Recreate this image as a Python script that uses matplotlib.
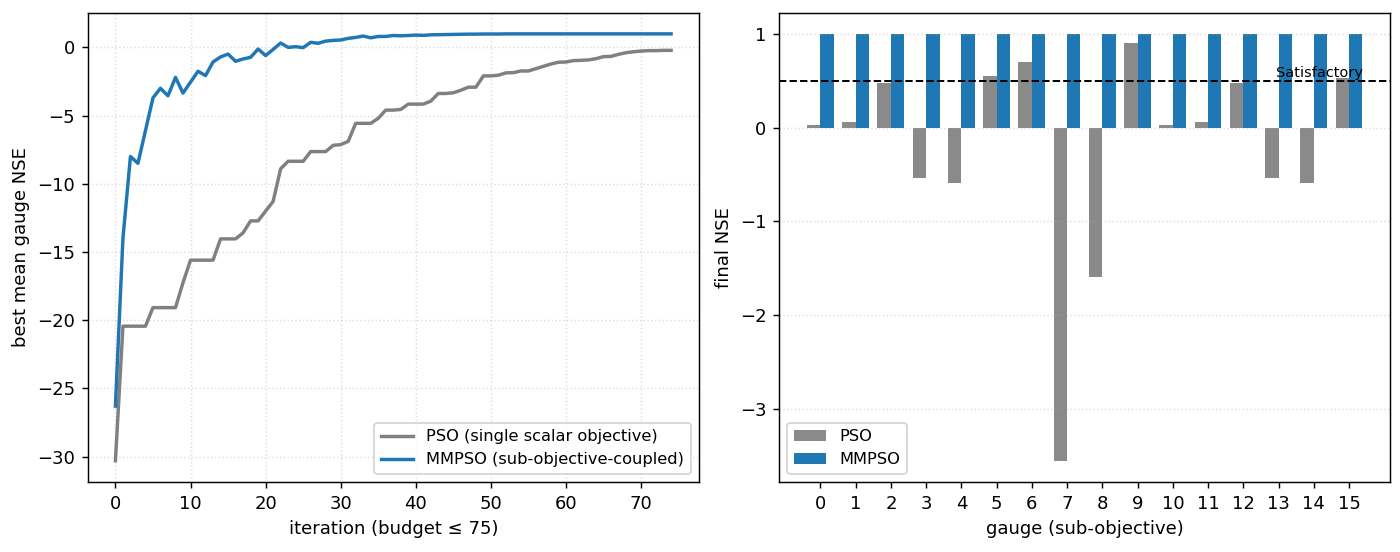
import numpy as np
import matplotlib
matplotlib.use("Agg")
import matplotlib.pyplot as plt

# convergence curves (best mean gauge NSE per iteration)
iters = np.arange(75)
pso_curve = [
    -30.3, -20.44, -20.44, -20.44, -20.44, -19.08, -19.08, -19.08, -19.08, -17.25,
    -15.6, -15.6, -15.6, -15.6, -14.04, -14.04, -14.04, -13.6, -12.72, -12.72,
    -12.0, -11.3, -8.9, -8.35, -8.35, -8.35, -7.64, -7.64, -7.64, -7.18,
    -7.13, -6.89, -5.57, -5.57, -5.57, -5.2, -4.6, -4.6, -4.55, -4.16,
    -4.16, -4.16, -3.94, -3.38, -3.38, -3.33, -3.14, -2.92, -2.92, -2.09,
    -2.09, -2.04, -1.87, -1.85, -1.73, -1.73, -1.56, -1.39, -1.22, -1.09,
    -1.07, -0.97, -0.95, -0.92, -0.83, -0.68, -0.66, -0.51, -0.39, -0.32,
    -0.27, -0.24, -0.24, -0.22, -0.22,
]
mmpso_curve = [
    -26.3, -14.0, -8.0, -8.5, -6.1, -3.7, -3.0, -3.55, -2.2, -3.35,
    -2.55, -1.75, -2.07, -1.07, -0.7, -0.49, -1.02, -0.85, -0.73, -0.12,
    -0.6, -0.15, 0.32, 0.0, 0.05, -0.02, 0.37, 0.3, 0.46, 0.51,
    0.54, 0.66, 0.73, 0.83, 0.7, 0.8, 0.8, 0.87, 0.85, 0.87,
    0.9, 0.88, 0.92, 0.93, 0.94, 0.95, 0.96, 0.97, 0.97, 0.98,
    0.98, 0.98, 0.99, 0.99, 0.99, 0.99, 0.99, 0.99, 0.99, 0.99,
    0.99, 0.99, 0.99, 0.99, 0.99, 0.99, 0.99, 0.99, 0.99, 0.99,
    0.99, 0.99, 0.99, 0.99, 0.99,
]

# final NSE per gauge
gauges = np.arange(16)
pso_final = [0.03, 0.06, 0.48, -0.54, -0.59, 0.55, 0.70, -3.55,
             -1.59, 0.90, 0.03, 0.06, 0.48, -0.54, -0.59, 0.53]
mmpso_final = [1.0, 0.995, 0.995, 1.0, 0.995, 0.995, 0.995, 1.0,
               1.0, 0.995, 1.0, 0.995, 0.995, 1.0, 0.995, 0.995]
threshold = 0.5

dpi = 130
fig = plt.figure(figsize=(1400 / dpi, 552 / dpi), dpi=dpi)
ax1 = fig.add_axes([0.0626, 0.1268, 0.4366, 0.8505])
ax2 = fig.add_axes([0.5566, 0.1268, 0.4364, 0.8505])

ax1.plot(iters, pso_curve, color="gray", lw=1.9, label="PSO (single scalar objective)")
ax1.plot(iters, mmpso_curve, color="tab:blue", lw=1.9, label="MMPSO (sub-objective-coupled)")
ax1.set_xlabel("iteration (budget ≤ 75)")
ax1.set_ylabel("best mean gauge NSE")
ax1.grid(True, ls=":", alpha=0.4)
ax1.legend(loc="lower right", fontsize=9)

w = 0.38
ax2.bar(gauges - w / 2, pso_final, w, color="#8a8a8a", label="PSO")
ax2.bar(gauges + w / 2, mmpso_final, w, color="tab:blue", label="MMPSO")
ax2.axhline(threshold, color="black", ls="--", lw=1.1)
ax2.text(len(gauges) - 0.6, threshold + 0.005, "Satisfactory", ha="right", va="bottom", fontsize=8)
ax2.set_xticks(gauges)
ax2.set_xlabel("gauge (sub-objective)")
ax2.set_ylabel("final NSE")
ax2.grid(True, axis="y", ls=":", alpha=0.4)
ax2.legend(loc="lower left", fontsize=9)

fig.savefig("out.png", dpi=dpi)
